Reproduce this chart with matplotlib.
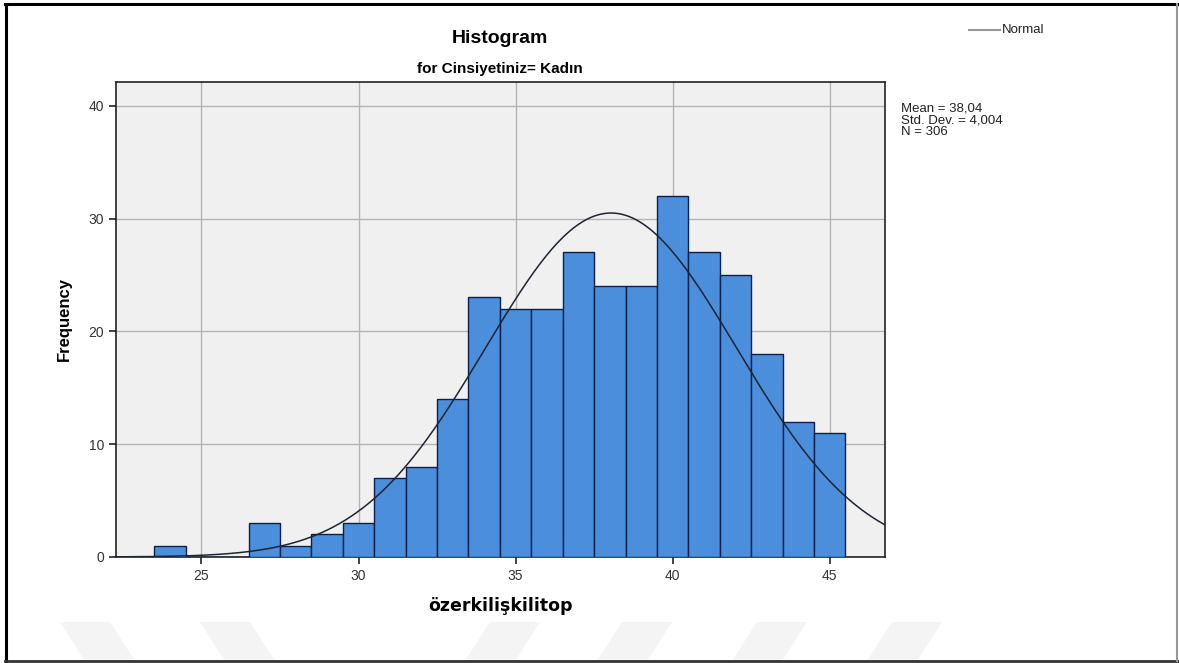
import matplotlib
matplotlib.use('Agg')
import matplotlib.pyplot as plt
from matplotlib.patches import Polygon
import numpy as np

plt.rcParams['font.family'] = ['Liberation Sans', 'DejaVu Sans']

# bin centres (width 1) and counts
BINS   = [24, 25, 26, 27, 28, 29, 30, 31, 32, 33, 34, 35, 36, 37, 38, 39, 40, 41, 42, 43, 44, 45]
COUNTS = [1, 0, 0, 3, 1, 2, 3, 7, 8, 14, 23, 22, 22, 27, 24, 24, 32, 27, 25, 18, 12, 11]
MEAN, SD, N = 38.04, 4.004, 306
XTICKS = [25, 30, 35, 40, 45]
YTICKS = [0, 10, 20, 30, 40]

BAR, EDGE, CURVE, PANEL, GRID = "#4B8EDC", "#0B1F4A", "#1E2433", "#F0F0F0", "#B4B4B4"
W, H = 1179, 663

fig = plt.figure(figsize=(11.79, 6.63), dpi=100)
fig.patch.set_facecolor("white")

def px(x, y):
    return [x / W, 1 - y / H]

# faint watermark chevrons at the bottom (pixel corners: top-left, top-right, bottom-right, bottom-left)
marks = [(60, 110, 135, 85), (200, 250, 275, 225), (490, 540, 515, 465),
         (622, 672, 647, 597), (757, 807, 782, 732), (892, 942, 917, 867)]
for tl, tr, br, bl in marks:
    fig.patches.append(Polygon([px(tl, 622), px(tr, 622), px(br, 661), px(bl, 661)], closed=True,
                               transform=fig.transFigure, facecolor="#F4F4F4", edgecolor="none", zorder=0))

# outer frame
fig.add_artist(plt.Line2D([0.0045, 1.0], [1 - 4 / H, 1 - 4 / H], transform=fig.transFigure, color="black", lw=2.2))
fig.add_artist(plt.Line2D([0.0048, 0.0048], [1 - 4 / H, 1 - 661 / H], transform=fig.transFigure, color="black", lw=2.2))
fig.add_artist(plt.Line2D([0.0045, 1.0], [1 - 661 / H, 1 - 661 / H], transform=fig.transFigure, color="#333333", lw=2.0))
fig.add_artist(plt.Line2D([1177 / W, 1177 / W], [1 - 4 / H, 1 - 661 / H], transform=fig.transFigure, color="#999999", lw=1.5))

ax = fig.add_axes([0.0984, 0.1599, 0.6522, 0.7164])
ax.set_facecolor(PANEL)
ax.bar(BINS, COUNTS, width=1.0, color=BAR, edgecolor=EDGE, linewidth=1.0, zorder=3)

ax.set_xlim(22.28, 46.76)
ax.set_ylim(0, 42.1)
xs = np.linspace(22.28, 46.76, 400)
ys = N * 1.0 / (SD * np.sqrt(2 * np.pi)) * np.exp(-0.5 * ((xs - MEAN) / SD) ** 2)
ax.plot(xs, ys, color=CURVE, linewidth=1.1, zorder=4)

ax.set_xticks(XTICKS)
ax.set_yticks(YTICKS)
ax.grid(True, color=GRID, linewidth=1.0, zorder=1)
ax.set_axisbelow(True)
ax.tick_params(axis="both", direction="out", length=5, width=1.2, colors="#222222",
               labelsize=10, labelcolor="#333333")
for sp in ax.spines.values():
    sp.set_color("#222222"); sp.set_linewidth(1.2)

ax.set_xlabel("özerkilişkilitop", fontsize=12.5, fontweight="bold", labelpad=10,
              family=['DejaVu Sans'])
ax.set_ylabel("Frequency", fontsize=12, fontweight="bold", labelpad=12)

fig.text(0.424, 0.942, "Histogram", ha="center", va="center", fontsize=14, fontweight="bold")
fig.text(0.424, 0.896, "for Cinsiyetiniz= Kadın", ha="center", va="center", fontsize=11,
         fontweight="bold")

# legend for normal curve
fig.add_artist(plt.Line2D([0.822, 0.848], [0.955, 0.955], transform=fig.transFigure,
                          color="#999999", linewidth=1.5))
fig.text(0.850, 0.955, "Normal", ha="left", va="center", fontsize=9.5, color="#222222")

fig.text(0.764, 0.845, f"Mean = 38,04\nStd. Dev. = 4,004\nN = {N}", ha="left", va="top",
         fontsize=9.5, color="#222222", linespacing=0.95)

plt.savefig("out.png", dpi=100, facecolor="white")
plt.close()
